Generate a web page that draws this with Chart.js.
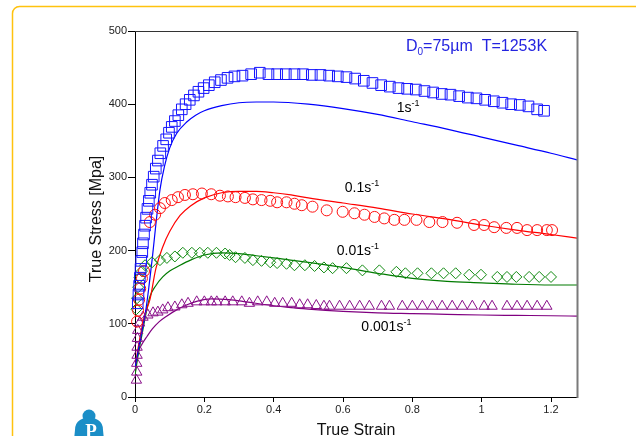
<!DOCTYPE html>
<html><head><meta charset="utf-8">
<script src="https://cdn.jsdelivr.net/npm/chart.js@4.4.0/dist/chart.umd.min.js"></script>
<style>html,body{margin:0;padding:0;background:#fff;overflow:hidden}#wrap{position:relative;width:636px;height:436px}</style>
</head><body><div id="wrap"><canvas id="c" width="636" height="436"></canvas></div>
<script>
// ---- axis ticks ----
const xTickValues = [0, 0.2, 0.4, 0.6, 0.8, 1, 1.2];
const yTickValues = [0, 100, 200, 300, 400, 500];

// ---- experimental data (markers) ----
const exp1Strain = [0.008,0.01,0.012,0.014,0.016,0.018,0.021,0.023,0.026,0.029,0.032,0.036,0.04,0.044,0.049,0.054,0.06,0.066,0.073,0.081,0.09,0.098,0.106,0.115,0.125,0.135,0.146,0.158,0.17,0.183,0.198,0.213,0.23,0.248,0.267,0.287,0.31,0.335,0.36,0.385,0.41,0.435,0.46,0.485,0.51,0.535,0.56,0.585,0.61,0.635,0.66,0.685,0.71,0.735,0.76,0.785,0.81,0.835,0.86,0.885,0.91,0.935,0.96,0.985,1.01,1.035,1.06,1.085,1.11,1.135,1.16,1.18];
const exp1Stress = [128,140,152,163,175,186,198,210,222,234,245,257,268,279,290,301,312,323,333,343,352,361,369,377,385,393,400,406,412,417,422,426,430,433,436,438,439,441,443,441,441,441,441,441,440,440,439,438,437,435,432,429,426,424,422,421,420,418,416,414,413,411,409,408,406,404,402,400,399,397,393,391];

const exp01Strain = [0.006,0.009,0.012,0.015,0.02,0.026,0.043,0.058,0.072,0.086,0.106,0.124,0.144,0.167,0.193,0.22,0.245,0.268,0.29,0.317,0.34,0.365,0.39,0.41,0.437,0.46,0.481,0.512,0.553,0.599,0.633,0.662,0.691,0.719,0.748,0.777,0.812,0.849,0.887,0.929,0.978,1.007,1.036,1.071,1.102,1.131,1.16,1.188,1.203];
const exp01Stress = [103,118,133,148,162,172,239,249,258,265,269,273,276,277,278,277,275,274,273,272,270,269,268,266,266,264,262,260,255,253,251,249,246,244,242,242,242,239,239,238,235,235,232,231,231,228,228,228,228];

const exp001Strain = [0.004,0.006,0.009,0.013,0.02,0.029,0.049,0.072,0.092,0.115,0.138,0.164,0.187,0.21,0.235,0.26,0.273,0.29,0.317,0.34,0.365,0.39,0.41,0.437,0.46,0.49,0.518,0.545,0.57,0.61,0.656,0.705,0.754,0.78,0.815,0.855,0.89,0.925,0.964,0.998,1.045,1.073,1.1,1.137,1.166,1.2];
const exp001Stress = [120,135,150,163,172,180,184,187,190,192,197,197,197,197,197,196,194,191,190,187,186,184,183,182,180,180,179,177,176,176,173,173,171,169,169,169,169,169,167,167,164,164,164,164,164,164];

const exp0001Strain = [0.004,0.005,0.005,0.006,0.006,0.007,0.008,0.013,0.023,0.037,0.052,0.066,0.08,0.095,0.115,0.135,0.153,0.178,0.2,0.22,0.236,0.26,0.282,0.308,0.33,0.354,0.38,0.403,0.426,0.452,0.475,0.498,0.523,0.545,0.561,0.59,0.619,0.648,0.676,0.711,0.734,0.771,0.8,0.829,0.858,0.886,0.915,0.944,0.973,1.007,1.03,1.073,1.102,1.131,1.16,1.188];
const exp0001Stress = [23,34,46,57,68,80,91,101,109,112,115,116,119,122,123,126,128,130,130,130,130,130,130,130,128,130,130,128,128,128,126,126,125,124,124,124,124,124,124,124,124,124,124,124,124,124,124,124,124,124,124,124,124,124,124,124];

// ---- model curves (lines) ----
const mod1Strain = [0,0.01,0.02,0.03,0.04,0.05,0.06,0.072,0.085,0.1,0.12,0.15,0.175,0.2,0.25,0.3,0.35,0.4,0.5,0.6,0.7,0.8,0.9,1.0,1.1,1.2,1.275];
const mod1Stress = [40,65,90,115,150,190,235,283,315,340,360,376,385,391,398,402,403,403,400,394,386,376,366,355,344,333,324];

const mod01Strain = [0,0.01,0.02,0.03,0.043,0.06,0.08,0.1,0.13,0.16,0.2,0.25,0.3,0.35,0.4,0.45,0.5,0.6,0.7,0.8,0.9,1.0,1.1,1.2,1.275];
const mod01Stress = [40,70,95,115,133,175,205,226,248,261,272,279,281,281,279,276,272,265,258,250,243,235,228,222,217];

const mod001Strain = [0,0.01,0.02,0.03,0.043,0.06,0.08,0.1,0.13,0.16,0.2,0.25,0.3,0.35,0.4,0.5,0.6,0.7,0.8,0.9,1.0,1.1,1.2,1.275];
const mod001Stress = [30,60,85,110,137,152,164,172,180,187,194,197,196,193,190,184,177,169,162,158,156,154,153,153];

const mod0001Strain = [0,0.005,0.01,0.02,0.035,0.05,0.07,0.09,0.12,0.15,0.18,0.22,0.27,0.32,0.38,0.45,0.5,0.6,0.7,0.8,0.9,1.0,1.1,1.2,1.275];
const mod0001Stress = [30,50,62,72,83,93,103,110,119,126,131,134,133,130,126,122,120,117,115,114,113,112,111.5,111,110.5];

// ---- labels ----
const rateLabels = [
  {base:'1s', sup:'-1', strain:0.755, stress:390},
  {base:'0.1s', sup:'-1', strain:0.605, stress:280},
  {base:'0.01s', sup:'-1', strain:0.582, stress:194},
  {base:'0.001s', sup:'-1', strain:0.653, stress:90}
];
const infoMain = 'D';
const infoSub = '0';
const infoRest = '=75\u00b5m  T=1253K';
const xTitle = 'True Strain';
const yTitle = 'True Stress [Mpa]';

const pts = (xs, ys) => xs.map((x, i) => ({x, y: ys[i]}));
const FONT = "'Liberation Sans', Arial, sans-serif";

function markerSet(xs, ys, color, style, r) {
  return {data: pts(xs, ys), showLine: false, pointStyle: style, pointRadius: r,
    pointBorderColor: color, pointBackgroundColor: 'rgba(255,255,255,0)', pointBorderWidth: 1, clip: false};
}
function lineSet(xs, ys, color) {
  return {data: pts(xs, ys), showLine: true, pointRadius: 0, borderColor: color, borderWidth: 1.2,
    cubicInterpolationMode: 'monotone', fill: false};
}

const decor = {
  id: 'decor',
  beforeDraw(chart) {
    const ctx = chart.ctx;
    ctx.save();
    ctx.fillStyle = '#fff';
    ctx.fillRect(0, 0, 636, 436);
    ctx.strokeStyle = '#FFC20E';
    ctx.lineWidth = 1.5;
    ctx.beginPath();
    ctx.roundRect(12.5, 6.5, 700, 500, 7);
    ctx.stroke();
    ctx.restore();
  },
  afterDraw(chart) {
    const ctx = chart.ctx, a = chart.chartArea;
    const xs = chart.scales.x, ys = chart.scales.y;
    ctx.save();
    // frame top/right
    ctx.strokeStyle = '#333'; ctx.lineWidth = 1;
    ctx.beginPath(); ctx.moveTo(a.left, a.top + 0.5); ctx.lineTo(a.right, a.top + 0.5); ctx.stroke();
    ctx.strokeStyle = '#7a7a7a'; ctx.lineWidth = 2;
    ctx.beginPath(); ctx.moveTo(a.right + 0.5, a.top); ctx.lineTo(a.right + 0.5, a.bottom + 1); ctx.stroke();
    // info text
    ctx.fillStyle = '#2424e0';
    ctx.textBaseline = 'alphabetic';
    ctx.font = '16px ' + FONT;
    let x = 406, y = 51;
    ctx.fillText(infoMain, x, y); x += ctx.measureText(infoMain).width;
    ctx.font = '10px ' + FONT;
    ctx.fillText(infoSub, x, y + 4); x += ctx.measureText(infoSub).width;
    ctx.font = '16px ' + FONT;
    ctx.fillText(infoRest, x, y);
    // rate labels
    ctx.fillStyle = '#000';
    rateLabels.forEach(l => {
      let lx = xs.getPixelForValue(l.strain), ly = ys.getPixelForValue(l.stress);
      ctx.font = '14px ' + FONT;
      ctx.fillText(l.base, lx, ly);
      lx += ctx.measureText(l.base).width;
      ctx.font = '9px ' + FONT;
      ctx.fillText(l.sup, lx, ly - 6);
    });
    // axis titles
    ctx.fillStyle = '#111';
    ctx.font = '16px ' + FONT;
    ctx.textAlign = 'center';
    ctx.fillText(xTitle, (a.left + a.right) / 2, 435);
    ctx.save();
    ctx.translate(101, 219);
    ctx.rotate(-Math.PI / 2);
    ctx.fillText(yTitle, 0, 0);
    ctx.restore();
    // logo
    ctx.fillStyle = '#1b8ec7';
    ctx.beginPath();
    ctx.arc(89, 416, 6.5, 0, Math.PI * 2);
    ctx.fill();
    ctx.beginPath();
    ctx.moveTo(80, 420);
    ctx.quadraticCurveTo(89, 414, 98, 420);
    ctx.quadraticCurveTo(103, 423, 103, 430);
    ctx.lineTo(104, 440);
    ctx.lineTo(74, 440);
    ctx.lineTo(75, 430);
    ctx.quadraticCurveTo(75, 423, 80, 420);
    ctx.fill();
    ctx.fillStyle = '#fff';
    ctx.font = "bold 19px 'Liberation Serif', serif";
    ctx.textAlign = 'center';
    ctx.fillText('P', 91, 437);
    ctx.restore();
  }
};

new Chart(document.getElementById('c'), {
  type: 'scatter',
  data: {datasets: [
    markerSet(exp1Strain, exp1Stress, '#1515ff', 'rect', 7.5),
    markerSet(exp01Strain, exp01Stress, '#ff1010', 'circle', 5.5),
    markerSet(exp001Strain, exp001Stress, '#108a10', 'rectRot', 5.5),
    markerSet(exp0001Strain, exp0001Stress, '#8a108a', 'triangle', 6),
    lineSet(mod1Strain, mod1Stress, '#0000ff'),
    lineSet(mod01Strain, mod01Stress, '#ff0000'),
    lineSet(mod001Strain, mod001Stress, '#007a00'),
    lineSet(mod0001Strain, mod0001Stress, '#800080')
  ]},
  options: {
    responsive: false, animation: false, devicePixelRatio: 1,
    layout: {padding: {left: 0, top: 31, right: 59, bottom: 0}},
    plugins: {legend: {display: false}, tooltip: {enabled: false}},
    scales: {
      x: {type: 'linear', min: 0, max: 1.275,
        afterFit: s => { s.height = 39; },
        afterBuildTicks: s => { s.ticks = xTickValues.map(v => ({value: v})); },
        ticks: {font: {family: FONT, size: 11}, color: '#222', padding: 1, maxRotation: 0,
          callback: v => String(v)},
        grid: {drawOnChartArea: false, tickLength: 5, color: '#000', lineWidth: 1},
        border: {color: '#000', width: 1}},
      y: {type: 'linear', min: 0, max: 500,
        afterFit: s => { s.width = 135; },
        afterBuildTicks: s => { s.ticks = yTickValues.map(v => ({value: v})); },
        ticks: {font: {family: FONT, size: 11}, color: '#222', padding: 1,
          callback: v => String(v)},
        grid: {drawOnChartArea: false, tickLength: 7, color: '#000', lineWidth: 1},
        border: {color: '#000', width: 1}}
    }
  },
  plugins: [decor]
});
</script></body></html>
